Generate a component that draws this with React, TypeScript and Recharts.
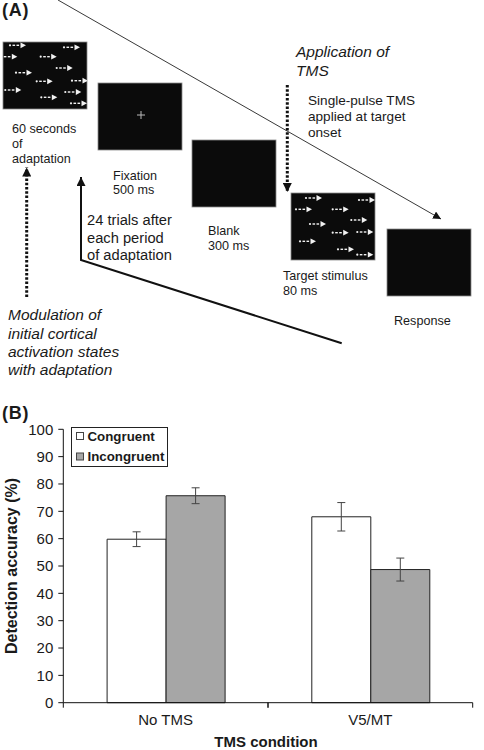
import React from "react";
import { BarChart, Bar, XAxis, YAxis, Legend, ErrorBar, Label } from "recharts";

// ---- panel B data ----
const conditions = ["No TMS", "V5/MT"];
const congruent = [59.8, 68.0];
const congruentErr = [2.7, 5.2];
const incongruent = [75.7, 48.7];
const incongruentErr = [2.9, 4.2];
const yTicks = [0, 10, 20, 30, 40, 50, 60, 70, 80, 90, 100];

const data = conditions.map((condition, i) => ({
  condition,
  congruent: congruent[i],
  congruentErr: congruentErr[i],
  incongruent: incongruent[i],
  incongruentErr: incongruentErr[i],
}));

const FONT = "'Liberation Sans', Arial, Helvetica, sans-serif";
const INK = "#1a1a1a";
const GREY = "#a6a6a6";

// ---- panel A (schematic) ----
const adaptationDots = [
  [26, 45.3], [17.3, 56.7], [56.7, 56.7], [80, 47.3], [32, 72.7], [72.7, 68],
  [52.7, 81.3], [88, 80.7], [21.3, 90], [81.3, 92], [57.3, 97.3], [87, 103.3],
];
const targetDots = [
  [322, 198], [312, 209.3], [348.7, 209.3], [375, 200], [326, 224], [367.3, 220],
  [348.7, 232.7], [373.3, 232], [316, 241.3], [354, 249.3], [373.3, 254.7],
];

function DotArrow({ tip, cy }: { tip: number; cy: number }) {
  return (
    <g fill="#f2f2f2">
      <circle cx={tip - 16} cy={cy} r={1.1} />
      <rect x={tip - 13.5} y={cy - 0.7} width={2.6} height={1.4} />
      <rect x={tip - 9.5} y={cy - 0.7} width={2.6} height={1.4} />
      <polygon points={`${tip - 5.5},${cy - 2.9} ${tip},${cy} ${tip - 5.5},${cy + 2.9}`} />
    </g>
  );
}

function Screen({ x, y, id, children }: { x: number; y: number; id: string; children?: React.ReactNode }) {
  return (
    <g>
      <clipPath id={id}>
        <rect x={x} y={y} width={84} height={67} />
      </clipPath>
      <rect x={x} y={y} width={84} height={67} fill="#0b0b0b" stroke="#8a8a8a" strokeWidth={0.8} />
      <g clipPath={`url(#${id})`}>{children}</g>
    </g>
  );
}

function Schematic() {
  const t = { fontFamily: FONT, fill: INK };
  return (
    <svg width={484} height={750} style={{ position: "absolute", left: 0, top: 0 }}>
      <defs>
        <marker id="thinHead" markerUnits="userSpaceOnUse" markerWidth={8} markerHeight={8} refX={8} refY={4} orient="auto">
          <path d="M0,0 L8,4 L0,8 z" fill="#111" />
        </marker>
        <marker id="boldHead" markerUnits="userSpaceOnUse" markerWidth={9} markerHeight={9} refX={9} refY={4.5} orient="auto">
          <path d="M0,0 L9,4.5 L0,9 z" fill="#111" />
        </marker>
      </defs>

      <text x={2} y={16} fontSize={18} fontWeight="bold" letterSpacing={0.8} {...t}>(A)</text>
      <text x={2} y={418.5} fontSize={18} fontWeight="bold" letterSpacing={0.8} {...t}>(B)</text>

      <line x1={58} y1={0} x2={441} y2={219} stroke="#222" strokeWidth={0.9} markerEnd="url(#thinHead)" />

      <Screen x={3} y={42} id="clipAdapt">
        {adaptationDots.map(([tx, cy], i) => <DotArrow key={i} tip={tx} cy={cy} />)}
      </Screen>
      <Screen x={98} y={83} id="clipFix">
        <line x1={137} y1={115} x2={145} y2={115} stroke="#bbb" strokeWidth={1} />
        <line x1={141} y1={111} x2={141} y2={119} stroke="#bbb" strokeWidth={1} />
      </Screen>
      <Screen x={192} y={140} id="clipBlank" />
      <Screen x={291} y={193} id="clipTarget">
        {targetDots.map(([tx, cy], i) => <DotArrow key={i} tip={tx} cy={cy} />)}
      </Screen>
      <Screen x={387} y={229} id="clipResp" />

      <g fontSize={12.6} {...t}>
        <text x={12} y={133}>60 seconds</text>
        <text x={12} y={148}>of</text>
        <text x={12} y={163}>adaptation</text>
        <text x={113} y={180}>Fixation</text>
        <text x={113} y={194}>500 ms</text>
        <text x={208} y={234.5}>Blank</text>
        <text x={208} y={249.5}>300 ms</text>
        <text x={283} y={280}>Target stimulus</text>
        <text x={283} y={295}>80 ms</text>
        <text x={394} y={325}>Response</text>
      </g>

      <g fontSize={15.5} fontStyle="italic" {...t}>
        <text x={296} y={57}>Application of</text>
        <text x={296} y={76}>TMS</text>
        <text x={8} y={320}>Modulation of</text>
        <text x={8} y={338.5}>initial cortical</text>
        <text x={8} y={357}>activation states</text>
        <text x={8} y={375}>with adaptation</text>
      </g>

      <g fontSize={13.6} {...t}>
        <text x={308} y={105}>Single-pulse TMS</text>
        <text x={308} y={121}>applied at target</text>
        <text x={308} y={137}>onset</text>
      </g>

      <g fontSize={14.7} {...t}>
        <text x={87} y={225}>24 trials after</text>
        <text x={87} y={242.5}>each period</text>
        <text x={87} y={260}>of adaptation</text>
      </g>

      <line x1={287.3} y1={85} x2={287.3} y2={192} stroke="#111" strokeWidth={3} strokeDasharray="2.5 1.8" markerEnd="url(#boldHead)" />
      <line x1={26.7} y1={297} x2={26.7} y2={167.5} stroke="#111" strokeWidth={3} strokeDasharray="2.5 1.8" markerEnd="url(#boldHead)" />
      <polyline points="341.7,343.3 81,260 81,177" fill="none" stroke="#111" strokeWidth={2} markerEnd="url(#boldHead)" />
    </svg>
  );
}

// ---- panel B helpers ----
function ConditionTick(props: any) {
  const { x, y, payload, width, visibleTicksCount } = props;
  const half = payload.offset || (width && visibleTicksCount ? width / visibleTicksCount / 2 : 0);
  const axisY = y - 5;
  return (
    <g>
      <line x1={x - half} y1={axisY} x2={x - half} y2={axisY + 5} stroke="#111" />
      <line x1={x + half} y1={axisY} x2={x + half} y2={axisY + 5} stroke="#111" />
      <text x={x} y={axisY + 22.3} textAnchor="middle" fontSize={15} fontFamily={FONT} fill={INK}>
        {payload.value}
      </text>
    </g>
  );
}

function LegendBox() {
  return (
    <svg width={97} height={40} style={{ display: "block" }}>
      <rect x={0.5} y={0.5} width={96} height={39} fill="#fff" stroke="#222" />
      <rect x={5.5} y={5.5} width={7} height={7} fill="#fff" stroke="#444" />
      <text x={16.5} y={13.5} fontSize={13.3} fontWeight="bold" fontFamily={FONT} fill={INK}>Congruent</text>
      <rect x={5.5} y={26} width={7} height={7} fill={GREY} stroke="#444" />
      <text x={16.5} y={34} fontSize={13.3} fontWeight="bold" fontFamily={FONT} fill={INK}>Incongruent</text>
    </svg>
  );
}

export default function App() {
  return (
    <div style={{ position: "absolute", left: 0, top: 0, width: 484, height: 750, background: "#fff", fontFamily: FONT, overflow: "hidden" }}>
      <Schematic />
      <div style={{ position: "absolute", left: 0, top: 400 }}>
        <BarChart
          width={484}
          height={350}
          data={data}
          margin={{ top: 29.3, right: 11.3, bottom: 0, left: 0 }}
          barCategoryGap="21.4%"
          barGap={0}
        >
          <XAxis
            dataKey="condition"
            height={47.3}
            axisLine={{ stroke: "#111" }}
            tickLine={false}
            tickSize={5}
            tickMargin={0}
            tick={<ConditionTick />}
            interval={0}
          >
            <Label
              content={(p: any) => {
                const vb = p.viewBox;
                return (
                  <text x={vb.x + vb.width / 2 - 2} y={vb.y + 44.5} textAnchor="middle" fontSize={15} fontWeight="bold" fontFamily={FONT} fill={INK}>
                    TMS condition
                  </text>
                );
              }}
            />
          </XAxis>
          <YAxis
            width={63.3}
            domain={[0, 100]}
            ticks={yTicks}
            interval={0}
            axisLine={{ stroke: "#111" }}
            tickLine={{ stroke: "#111" }}
            tickSize={5}
            tickMargin={5}
            tick={{ fontSize: 15, fill: INK, fontFamily: FONT }}
          >
            <Label
              content={(p: any) => {
                const vb = p.viewBox;
                const cy = vb.y + vb.height / 2;
                return (
                  <text transform={`translate(16.7, ${cy}) rotate(-90)`} textAnchor="middle" fontSize={16} fontWeight="bold" fontFamily={FONT} fill={INK}>
                    Detection accuracy (%)
                  </text>
                );
              }}
            />
          </YAxis>
          <Legend
            layout="vertical"
            align="center"
            verticalAlign="middle"
            content={() => <LegendBox />}
            wrapperStyle={{ left: 71, top: 27, width: 97, height: 40 }}
          />
          <Bar dataKey="congruent" name="Congruent" fill="#fff" stroke="#222" strokeWidth={1} isAnimationActive={false}>
            <ErrorBar dataKey="congruentErr" width={4} stroke="#444" strokeWidth={1} direction="y" />
          </Bar>
          <Bar dataKey="incongruent" name="Incongruent" fill={GREY} stroke="#222" strokeWidth={1} isAnimationActive={false}>
            <ErrorBar dataKey="incongruentErr" width={4} stroke="#444" strokeWidth={1} direction="y" />
          </Bar>
        </BarChart>
      </div>
    </div>
  );
}
